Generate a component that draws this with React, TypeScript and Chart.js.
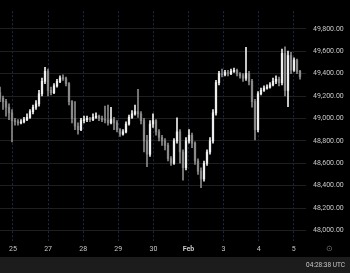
import React, { useEffect, useRef } from "react";
import { Chart, registerables } from "chart.js";

Chart.register(...registerables);

// 2-hour candles, oldest first
const OPEN = [
  49230, 49180, 49150, 49100, 49050, 48980, 48970, 48960, 48970, 48990,
  49010, 49060, 49100, 49130, 49220, 49330, 49420, 49250, 49230, 49290,
  49330, 49360, 49355, 49310, 49150, 49000, 48930, 48900, 48980, 48990,
  49000, 48990, 49010, 49020, 49000, 48990, 48985, 48960, 48990, 48960,
  48900, 48860, 48880, 48950, 49010, 49040, 49060, 49040, 48980, 48800,
  48680, 48950, 48980, 48880, 48830, 48800, 48760, 48640, 48600, 48800,
  48880, 48700, 48560, 48800, 48850, 48780, 48620, 48530, 48460, 48600,
  48700, 48800, 49050, 49320, 49400, 49390, 49410, 49400, 49420, 49430,
  49400, 49380, 49360, 49400, 49330, 49150, 48900, 49220, 49250, 49270,
  49280, 49300, 49330, 49350, 49320, 49580, 49250, 49560, 49430, 49520,
  49420,
];
const HIGH = [
  49280, 49200, 49170, 49130, 49080, 49000, 48990, 48990, 49010, 49040,
  49080, 49120, 49160, 49250, 49360, 49455, 49440, 49280, 49310, 49350,
  49380, 49390, 49370, 49320, 49160, 49150, 48960, 49000, 49020, 49020,
  49010, 49040, 49050, 49030, 49020, 49110, 49120, 49100, 49010, 48980,
  48910, 48900, 48970, 49030, 49070, 49120, 49260, 49060, 49000, 48850,
  48980, 49040, 48990, 48900, 48850, 48820, 48780, 48660, 48820, 49005,
  48900, 48720, 48830, 48900, 48870, 48790, 48640, 48560, 48620, 48720,
  48830, 49080, 49340, 49420, 49440, 49430, 49430, 49440, 49450, 49440,
  49410, 49400, 49634, 49420, 49350, 49170, 49240, 49270, 49290, 49300,
  49320, 49360, 49380, 49370, 49620, 49640, 49600, 49590, 49540, 49530,
  49430,
];
const LOW = [
  49150, 49080, 49020, 48990, 48790, 48940, 48940, 48950, 48960, 48980,
  49000, 49040, 49080, 49110, 49200, 49310, 49200, 49210, 49220, 49280,
  49320, 49340, 49290, 49120, 48960, 48900, 48860, 48890, 48960, 48970,
  48970, 48980, 49000, 48980, 48970, 48960, 48940, 48950, 48900, 48880,
  48840, 48850, 48870, 48940, 49000, 49030, 49010, 48950, 48700, 48570,
  48660, 48920, 48850, 48800, 48760, 48720, 48620, 48580, 48590, 48780,
  48600, 48450, 48540, 48780, 48740, 48590, 48500, 48383, 48440, 48580,
  48680, 48780, 49030, 49300, 49370, 49380, 49380, 49390, 49410, 49380,
  49360, 49330, 49340, 49300, 49100, 48808, 48880, 49210, 49240, 49260,
  49270, 49290, 49310, 49290, 49300, 49200, 49106, 49400, 49420, 49400,
  49350,
];
const CLOSE = [
  49180, 49150, 49100, 49050, 48980, 48970, 48960, 48970, 48990, 49010,
  49060, 49100, 49130, 49220, 49330, 49420, 49250, 49230, 49290, 49330,
  49360, 49355, 49310, 49150, 49000, 48930, 48900, 48980, 48990, 49000,
  48990, 49010, 49020, 49000, 48990, 48985, 48960, 48990, 48960, 48900,
  48860, 48880, 48950, 49010, 49040, 49060, 49040, 48980, 48800, 48680,
  48950, 48980, 48880, 48830, 48800, 48760, 48640, 48600, 48800, 48880,
  48700, 48560, 48800, 48850, 48780, 48620, 48530, 48460, 48600, 48700,
  48800, 49050, 49320, 49400, 49390, 49410, 49400, 49420, 49430, 49400,
  49380, 49360, 49400, 49330, 49150, 48900, 49220, 49250, 49270, 49280,
  49300, 49330, 49350, 49320, 49580, 49250, 49560, 49430, 49520, 49420,
  49370,
];

const DAY_LABELS = ["25", "27", "28", "29", "30", "Feb", "3", "4", "5"];
const FIRST_DAY_AT = 4.33; // candle index of first day boundary
const CANDLES_PER_DAY = 11.7;
const PRICE_TICKS = [48000, 48200, 48400, 48600, 48800, 49000, 49200, 49400, 49600, 49800];

const UP = "#eeeeee";
const DOWN = "#8a8a8a";

export default function App() {
  const ref = useRef<HTMLCanvasElement | null>(null);

  useEffect(() => {
    if (!ref.current) return;
    const colors = CLOSE.map((c, i) => (c >= OPEN[i] ? UP : DOWN));
    const dayTicks = DAY_LABELS.map((_, k) => FIRST_DAY_AT + k * CANDLES_PER_DAY);
    const chart = new Chart(ref.current, {
      type: "bar",
      data: {
        datasets: [
          {
            label: "wick",
            data: LOW.map((l, i) => ({ x: i, y: [l, HIGH[i]] })) as any,
            backgroundColor: colors,
            barThickness: 1,
            grouped: false,
            order: 2,
          },
          {
            label: "body",
            data: OPEN.map((o, i) => ({ x: i, y: [o, CLOSE[i]] })) as any,
            backgroundColor: colors,
            barThickness: 1.6,
            minBarLength: 1,
            grouped: false,
            order: 1,
          },
        ],
      },
      options: {
        animation: false,
        responsive: false,
        layout: { padding: 0 },
        plugins: { legend: { display: false }, tooltip: { enabled: false } },
        scales: {
          x: {
            type: "linear",
            offset: false,
            min: 0,
            max: 102,
            grid: {
              offset: false,
              color: "#1b2a48",
              drawTicks: false,
            },
            border: { display: false, dash: [2, 2] },
            afterBuildTicks: (scale: any) => {
              scale.ticks = dayTicks.map((v) => ({ value: v }));
            },
            afterFit: (scale: any) => {
              scale.height = 16;
            },
            ticks: {
              autoSkip: false,
              maxRotation: 0,
              padding: 4,
              color: "#c8c8c8",
              font: (ctx: any) => ({
                family: "Roboto",
                size: 7,
                weight: DAY_LABELS[ctx.index] === "Feb" ? "bold" : "normal",
              }),
              callback: (_v: any, i: number) => DAY_LABELS[i],
            },
          },
          y: {
            type: "linear",
            position: "right",
            min: 47906,
            max: 49957,
            grid: { color: "#1f1f1f", drawTicks: false },
            border: { display: false },
            afterBuildTicks: (scale: any) => {
              scale.ticks = PRICE_TICKS.map((v) => ({ value: v }));
            },
            afterFit: (scale: any) => {
              scale.width = 44;
            },
            ticks: {
              padding: 7,
              color: "#c8c8c8",
              font: { family: "Roboto", size: 7 },
              callback: (v: any) =>
                Number(v).toLocaleString("en-US", {
                  minimumFractionDigits: 2,
                  maximumFractionDigits: 2,
                }),
            },
          },
        },
      },
    });
    return () => chart.destroy();
  }, []);

  return (
    <div
      style={{
        position: "fixed",
        left: 0,
        top: 0,
        width: 350,
        height: 273,
        background: "#000",
        fontFamily: "Roboto, sans-serif",
      }}
    >
      <canvas ref={ref} width={350} height={257} style={{ display: "block", width: 350, height: 257 }} />
      <div
        style={{
          position: "absolute",
          left: 326,
          top: 244,
          fontSize: 8,
          color: "#777",
          lineHeight: "10px",
        }}
      >
        ⊙
      </div>
      <div
        style={{
          height: 16,
          background: "#1c1c1c",
          color: "#c8c8c8",
          fontSize: 6.5,
          lineHeight: "16px",
          textAlign: "right",
          paddingRight: 5,
          boxSizing: "border-box",
        }}
      >
        04:28:38 UTC
      </div>
    </div>
  );
}
